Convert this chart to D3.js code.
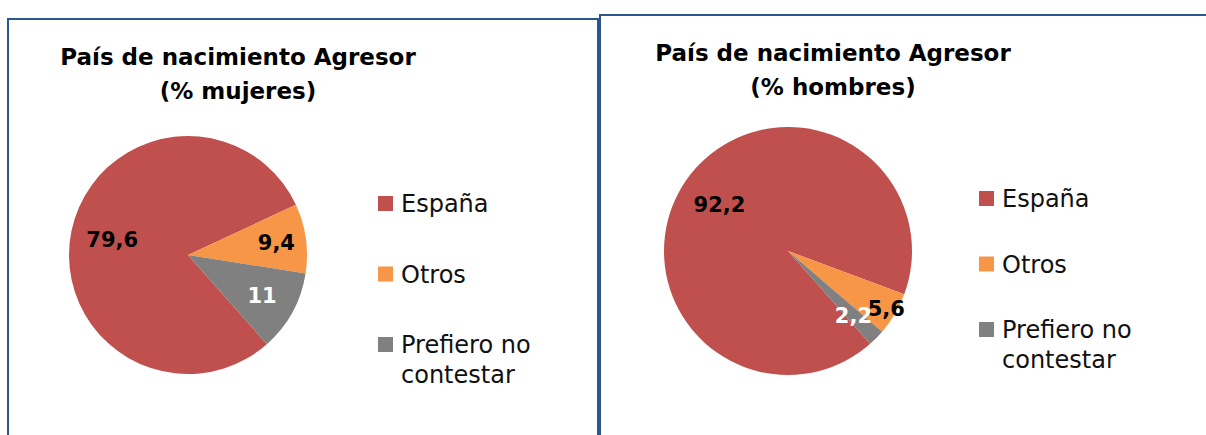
<!DOCTYPE html>
<html>
<head>
<meta charset="utf-8">
<script src="https://cdn.jsdelivr.net/npm/d3@7"></script>
<style>
  html, body { margin: 0; padding: 0; background: #fff; }
  svg { display: block; font-family: 'DejaVu Sans', sans-serif; }
</style>
</head>
<body>
<svg id="chart"></svg>
<script>
// Data
const categories = ['España', 'Otros', 'Prefiero no contestar'];
const mujeres = [79.6, 9.4, 11];
const hombres = [92.2, 5.6, 2.2];
const titles = [['País de nacimiento Agresor', '(% mujeres)'], ['País de nacimiento Agresor', '(% hombres)']];

const WIDTH = 1206;
const HEIGHT = 435;
const colors = d3.scaleOrdinal().domain(categories).range(['#C0504D', '#F79646', '#808080']);
const labelColors = d3.scaleOrdinal().domain(categories).range(['#000', '#000', '#fff']);
const START = 138.5 * Math.PI / 180;
const fmt = v => String(v).replace('.', ',');

const svg = d3.select('#chart')
  .attr('width', WIDTH)
  .attr('height', HEIGHT);

// layout for each panel
const panels = [
  {
    values: mujeres, title: titles[0],
    box: {x: 8, y: 19, w: 590},
    titleX: 238, titleY: 65,
    cx: 188, cy: 255, r: 119,
    labelR: [0.65, 0.75, 0.71],
    legendX: 378, legendY: 196, legendStep: 70.5
  },
  {
    values: hombres, title: titles[1],
    box: {x: 600, y: 15, w: 610},
    titleX: 833, titleY: 61,
    cx: 788, cy: 251, r: 124,
    labelR: [0.67, 0.92, 0.74],
    legendX: 979, legendY: 191, legendStep: 65.5
  }
];

const pie = d3.pie()
  .sort(null)
  .value(d => d)
  .startAngle(START)
  .endAngle(START + 2 * Math.PI);

function wrap(text, maxWidth, size) {
  // split long legend entries on words
  const probe = svg.append('text').style('font-size', size + 'px');
  const lines = [];
  let line = [];
  text.split(' ').forEach(word => {
    line.push(word);
    probe.text(line.join(' '));
    if (probe.node().getComputedTextLength() > maxWidth && line.length > 1) {
      line.pop();
      lines.push(line.join(' '));
      line = [word];
    }
  });
  lines.push(line.join(' '));
  probe.remove();
  return lines;
}

panels.forEach(p => {
  const g = svg.append('g');

  // Border
  g.append('rect')
    .attr('x', p.box.x)
    .attr('y', p.box.y)
    .attr('width', p.box.w)
    .attr('height', HEIGHT)
    .style('fill', 'none')
    .style('stroke', '#2d5590')
    .style('stroke-width', 2);

  // Title
  g.append('text')
    .attr('text-anchor', 'middle')
    .style('font-size', '23px')
    .style('font-weight', 'bold')
    .style('fill', '#000')
    .selectAll('tspan')
    .data(p.title)
    .join('tspan')
    .attr('x', p.titleX)
    .attr('y', (d, i) => p.titleY + i * 34)
    .text(d => d);

  // Pie
  const arc = d3.arc().innerRadius(0).outerRadius(p.r);
  const arcs = pie(p.values);
  const pieG = g.append('g').attr('transform', `translate(${p.cx}, ${p.cy})`);

  pieG.selectAll('path')
    .data(arcs)
    .join('path')
    .attr('d', arc)
    .style('fill', (d, i) => colors(categories[i]));

  pieG.selectAll('text')
    .data(arcs)
    .join('text')
    .attr('transform', (d, i) => {
      const lr = p.r * p.labelR[i];
      const c = d3.arc().innerRadius(lr).outerRadius(lr).centroid(d);
      return `translate(${c[0]}, ${c[1]})`;
    })
    .attr('text-anchor', 'middle')
    .attr('dy', '0.36em')
    .style('font-size', '21px')
    .style('font-weight', 'bold')
    .style('fill', (d, i) => labelColors(categories[i]))
    .text(d => fmt(d.data));

  // Legend
  const legend = g.selectAll('.legend')
    .data(categories)
    .join('g')
    .attr('class', 'legend')
    .attr('transform', (d, i) => `translate(${p.legendX}, ${p.legendY + i * p.legendStep})`);

  legend.append('rect')
    .attr('width', 15)
    .attr('height', 15)
    .style('fill', d => colors(d));

  legend.append('text')
    .style('font-size', '24px')
    .style('fill', '#111')
    .selectAll('tspan')
    .data(d => wrap(d, 150, 24))
    .join('tspan')
    .attr('x', 23)
    .attr('y', (d, i) => 16 + i * 30)
    .text(d => d);
});
</script>
</body>
</html>
